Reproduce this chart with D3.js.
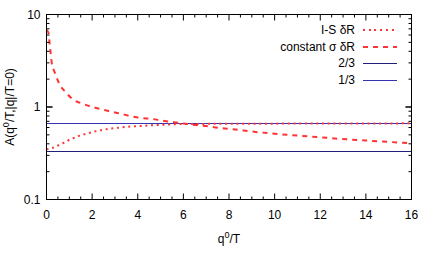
<!DOCTYPE html>
<html><head><meta charset="utf-8">
<script src="https://cdn.jsdelivr.net/npm/d3@7"></script>
<style>body{margin:0;background:#fff}text{font-family:"Liberation Sans",Arial,sans-serif}</style>
</head><body><svg id="c" width="432" height="259"></svg>
<script>
const isQ = [0,0.27,0.49,0.74,0.99,1.24,1.48,1.73,1.98,2.24,2.49,2.75,3.02,3.28,3.54,3.81,4.06,4.32,4.58,4.84,5.1,5.37,5.63,6,7,8,9,10,11,12,13,14,15,16];
const isA = [0.35,0.361,0.382,0.408,0.44,0.467,0.492,0.512,0.533,0.552,0.567,0.581,0.592,0.602,0.611,0.617,0.622,0.627,0.633,0.637,0.642,0.647,0.651,0.655,0.657,0.659,0.66,0.661,0.662,0.663,0.664,0.665,0.665,0.666];
const csQ = [0,0.08,0.15,0.23,0.37,0.59,0.81,1.14,1.61,2.13,2.71,3.3,3.95,4.76,5.19,5.65,6.1,6.55,7.0,7.5,8.0,8.4,8.84,10.2,11.55,12.9,14.27,15.65,16];
const csA = [6.8,6.4,4.5,3.0,2.34,1.73,1.47,1.22,1.078,0.983,0.905,0.839,0.773,0.735,0.704,0.682,0.659,0.637,0.622,0.598,0.581,0.567,0.549,0.509,0.48,0.452,0.43,0.41,0.405];
const constLevels = [2/3, 1/3];
const legendLabels = ["I-S \u03b4R","constant \u03c3 \u03b4R","2/3","1/3"];
const xTicks = [0,2,4,6,8,10,12,14,16];
const yTicks = [0.1,1,10];

const svg = d3.select("#c");
const L=46.5,R=411.5,T=14.5,B=199.5;
const x = d3.scaleLinear().domain([0,16]).range([L,R]);
const y = d3.scaleLog().domain([0.1,10]).range([B,T]);
const g = svg.append("g");

const dark = "#20207a", mid = "#3434b0";
g.append("line").attr("x1",L).attr("x2",R).attr("y1",y(constLevels[0])).attr("y2",y(constLevels[0])).attr("stroke",mid).attr("stroke-width",1).attr("shape-rendering","crispEdges");
g.append("line").attr("x1",L).attr("x2",R).attr("y1",y(constLevels[1])).attr("y2",y(constLevels[1])).attr("stroke",dark).attr("stroke-width",1).attr("shape-rendering","crispEdges");

const line = d3.line().x(d=>x(d[0])).y(d=>y(d[1])).curve(d3.curveMonotoneX);
const red = "#ff3333";
g.append("path").datum(csQ.map((q,i)=>[q,csA[i]])).attr("d",line).attr("fill","none").attr("stroke",red).attr("stroke-width",2).attr("stroke-dasharray","5,5");
g.append("path").datum(isQ.map((q,i)=>[q,isA[i]])).attr("d",line).attr("fill","none").attr("stroke",red).attr("stroke-width",2).attr("stroke-dasharray","2,3.7");

svg.append("rect").attr("x",L).attr("y",T).attr("width",R-L).attr("height",B-T).attr("fill","none").attr("stroke","#000").attr("stroke-width",1);

const tk = svg.append("g").attr("stroke","#000").attr("stroke-width",1);
for(let v=0; v<=16.001; v+=0.5){
  const major = Math.abs(v/2-Math.round(v/2))<1e-6;
  const len = major?6:3;
  tk.append("line").attr("x1",x(v)).attr("x2",x(v)).attr("y1",B).attr("y2",B-len);
  tk.append("line").attr("x1",x(v)).attr("x2",x(v)).attr("y1",T).attr("y2",T+len);
}
[0.1,1].forEach(d=>{for(let k=1;k<=10;k++){const v=d*k; const major=(k===1||k===10); const len=major?6:3;
  tk.append("line").attr("x1",L).attr("x2",L+len).attr("y1",y(v)).attr("y2",y(v));
  tk.append("line").attr("x1",R).attr("x2",R-len).attr("y1",y(v)).attr("y2",y(v));}});

const fs = 12;
xTicks.forEach(v=>svg.append("text").attr("x",x(v)).attr("y",B+19).attr("text-anchor","middle").attr("font-size",fs).attr("fill","#000").text(v));
yTicks.forEach(v=>svg.append("text").attr("x",L-6).attr("y",y(v)+4).attr("text-anchor","end").attr("font-size",fs).attr("fill","#000").text(v));

const xl = svg.append("text").attr("x",(L+R)/2).attr("y",243).attr("text-anchor","middle").attr("font-size",fs);
xl.append("tspan").text("q");
xl.append("tspan").attr("dy",-5).attr("font-size",9).text("0");
xl.append("tspan").attr("dy",5).text("/T");

const yl = svg.append("text").attr("transform",`translate(14,${(T+B)/2}) rotate(-90)`).attr("text-anchor","middle").attr("font-size",fs);
yl.append("tspan").text("A(q");
yl.append("tspan").attr("dy",-5).attr("font-size",9).text("0");
yl.append("tspan").attr("dy",5).text("/T,|q|/T=0)");

const legY = [29.5,46.5,63,80];
const styles = [
  {c:red,w:2,d:"2,3.7"},
  {c:red,w:2,d:"5,5"},
  {c:dark,w:1,d:null},
  {c:mid,w:1,d:null}];
legendLabels.forEach((t,i)=>{
  svg.append("text").attr("x",355).attr("y",legY[i]+4).attr("text-anchor","end").attr("font-size",fs).text(t);
  const l = svg.append("line").attr("x1",363).attr("x2",397).attr("y1",legY[i]).attr("y2",legY[i]).attr("stroke",styles[i].c).attr("stroke-width",styles[i].w).attr("shape-rendering","crispEdges");
  if(styles[i].d) l.attr("stroke-dasharray",styles[i].d);
});
</script></body></html>
